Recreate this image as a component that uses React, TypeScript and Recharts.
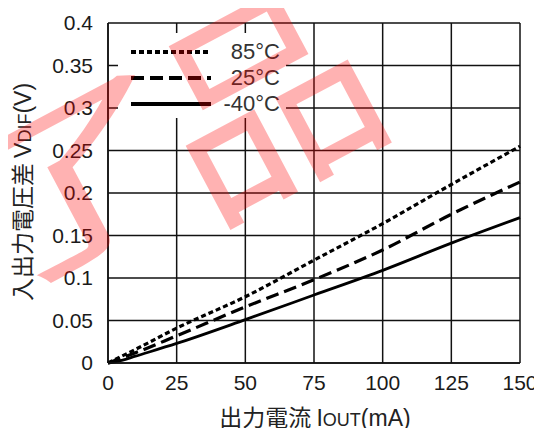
import React from 'react';
import {
  LineChart,
  Line,
  XAxis,
  YAxis,
  CartesianGrid,
  Legend,
} from 'recharts';

// 出力電流 (mA)
const currents = [0, 5, 10, 25, 50, 75, 100, 125, 150];
// 入出力電圧差 (V) per temperature
const v85 = [0, 0.008, 0.016, 0.041, 0.078, 0.121, 0.164, 0.21, 0.255];
const v25 = [0, 0.006, 0.012, 0.032, 0.066, 0.098, 0.133, 0.175, 0.213];
const vm40 = [0, 0.003, 0.008, 0.023, 0.051, 0.08, 0.109, 0.141, 0.171];

const xTicks = [0, 25, 50, 75, 100, 125, 150];
const yTicks = [0, 0.05, 0.1, 0.15, 0.2, 0.25, 0.3, 0.35, 0.4];

const seriesInfo = [
  { key: 't85', name: '85°C', dash: '5 3', width: 3.2 },
  { key: 't25', name: '25°C', dash: '13 6', width: 3.2 },
  { key: 'tm40', name: '-40°C', dash: undefined, width: 2.8 },
];

const data = currents.map((c, i) => ({
  current: c,
  t85: v85[i],
  t25: v25[i],
  tm40: vm40[i],
}));

const FONT = '"Liberation Sans", Arial, "Noto Sans CJK JP", sans-serif';
const CJK = '"Noto Sans CJK JP", sans-serif';

const LegendBox = () => (
  <div
    style={{
      background: '#fff',
      width: 168,
      height: 85,
      position: 'relative',
      fontFamily: FONT,
    }}
  >
    {seriesInfo.map((s, i) => (
      <div
        key={s.key}
        style={{ position: 'absolute', left: 0, top: 6 + i * 26, width: 168, height: 26 }}
      >
        <svg width={100} height={26} style={{ position: 'absolute', left: 0, top: 0 }}>
          <line
            x1={13}
            x2={93}
            y1={13}
            y2={13}
            stroke="#000"
            strokeWidth={4}
            strokeDasharray={s.dash}
          />
        </svg>
        <span
          style={{
            position: 'absolute',
            right: 6,
            top: 0,
            fontSize: 22,
            lineHeight: '26px',
            color: '#333',
          }}
        >
          {s.name}
        </span>
      </div>
    ))}
  </div>
);

const YLabel = () => {
  const cx = 31;
  const cy = 192;
  return (
    <text
      x={cx}
      y={cy}
      transform={`rotate(-90 ${cx} ${cy})`}
      textAnchor="middle"
      fill="#222"
      fontFamily={FONT}
      fontSize={23}
    >
      <tspan fontFamily={CJK}>入出力電圧差 </tspan>
      <tspan>V</tspan>
      <tspan fontSize={18}>DIF</tspan>
      <tspan>(V)</tspan>
    </text>
  );
};

const XLabel = (props: any) => {
  const vb = props.viewBox || {};
  const cx = vb.x + vb.width / 2 + 1;
  return (
    <text
      x={cx}
      y={426}
      textAnchor="middle"
      fill="#222"
      fontFamily={FONT}
      fontSize={23}
    >
      <tspan fontFamily={CJK}>出力電流 </tspan>
      <tspan>I</tspan>
      <tspan fontSize={18}>OUT</tspan>
      <tspan>(mA)</tspan>
    </text>
  );
};

export default function App() {
  return (
    <div style={{ position: 'relative', width: 542, height: 436, margin: -8, background: '#fff', overflow: 'hidden' }}>
      <LineChart
        width={542}
        height={436}
        data={data}
        margin={{ top: 23, right: 22, bottom: 0, left: 0 }}
      >
        <CartesianGrid stroke="#111" strokeWidth={1.5} />
        <XAxis
          dataKey="current"
          type="number"
          domain={[0, 150]}
          ticks={xTicks}
          height={73}
          tickLine={false}
          axisLine={{ stroke: '#111', strokeWidth: 1.5 }}
          tickSize={0}
          tickMargin={12}
          tick={{ fill: '#1a1a1a', fontSize: 21, fontFamily: FONT }}
          label={<XLabel />}
        />
        <YAxis
          type="number"
          domain={[0, 0.4]}
          ticks={yTicks}
          width={108}
          tickLine={false}
          axisLine={{ stroke: '#111', strokeWidth: 1.5 }}
          tickSize={0}
          tickMargin={15}
          tick={{ fill: '#1a1a1a', fontSize: 21, fontFamily: FONT }}
          label={<YLabel />}
        />
        <Legend
          content={<LegendBox />}
          layout="horizontal"
          verticalAlign="middle"
          align="center"
          wrapperStyle={{ left: 118, top: 33, width: 168, height: 85 }}
        />
        {seriesInfo.map((s) => (
          <Line
            key={s.key}
            dataKey={s.key}
            name={s.name}
            type="monotone"
            stroke="#000"
            strokeWidth={s.width}
            strokeDasharray={s.dash}
            dot={false}
            isAnimationActive={false}
          />
        ))}
      </LineChart>
      <svg
        width={542}
        height={436}
        style={{ position: 'absolute', left: 0, top: 0, pointerEvents: 'none' }}
      >
        <g fill="rgba(255,0,0,0.3)" fontFamily={CJK}>
          <g transform="translate(62 172) rotate(-28) scale(1.45 0.92)">
            <text x={0} y={0} fontSize={195} textAnchor="middle" dominantBaseline="central">
              了
            </text>
          </g>
          <g transform="translate(258 88) rotate(-28)">
            <text x={0} y={0} fontSize={218} textAnchor="middle" dominantBaseline="central">
              品
            </text>
          </g>
        </g>
      </svg>
    </div>
  );
}
